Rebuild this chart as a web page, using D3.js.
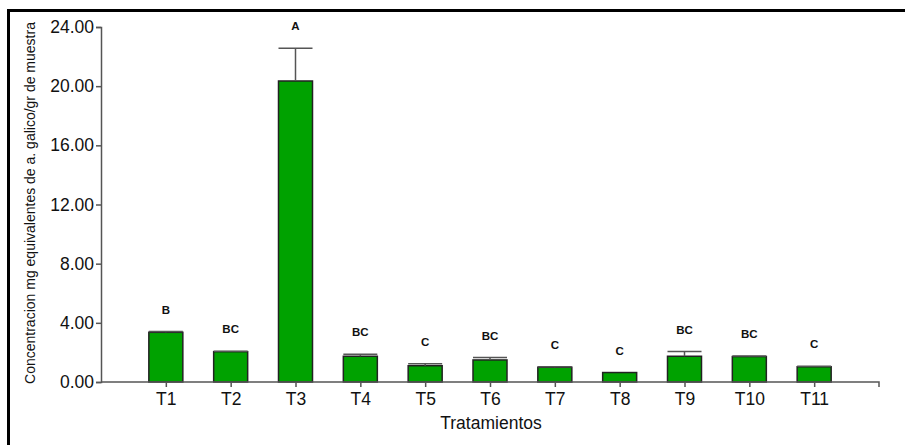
<!DOCTYPE html>
<html>
<head>
<meta charset="utf-8">
<script src="https://cdn.jsdelivr.net/npm/d3@7"></script>
<style>
  html, body { margin: 0; padding: 0; background: #fff; }
  svg { display: block; }
</style>
</head>
<body>
<script>
// Treatments, mean concentration, upper error and Tukey-style group letters
const categories = ["T1", "T2", "T3", "T4", "T5", "T6", "T7", "T8", "T9", "T10", "T11"];
const means      = [3.36, 2.05, 20.35, 1.74, 1.10, 1.49, 1.00, 0.64, 1.74, 1.72, 1.03];
const errors     = [0.05, 0.03, 2.21, 0.14, 0.14, 0.16, 0.03, 0.00, 0.32, 0.03, 0.03];
const groups     = ["B", "BC", "A", "BC", "C", "BC", "C", "C", "BC", "BC", "C"];
const yTicks     = [0, 4, 8, 12, 16, 20, 24];

const W = 905, H = 445;
const plotLeft = 101, plotRight = 879, plotTop = 27, plotBottom = 382;
const font = "Liberation Sans, Arial, sans-serif";

const svg = d3.select("body").append("svg")
  .attr("width", W).attr("height", H);

// outer frame
svg.append("rect")
  .attr("x", 8.5).attr("y", 10.5)
  .attr("width", W + 20).attr("height", H + 20)
  .attr("fill", "none").attr("stroke", "#000").attr("stroke-width", 3);

const x = d3.scalePoint().domain(categories).range([plotLeft, plotRight]).padding(1);
const y = d3.scaleLinear().domain([0, 24]).range([plotBottom, plotTop]);

const barW = 34;
const axisColor = "#555";

// bars
svg.append("g").selectAll("rect")
  .data(categories)
  .join("rect")
  .attr("x", (d) => x(d) - barW / 2)
  .attr("y", (d, i) => y(means[i]))
  .attr("width", barW)
  .attr("height", (d, i) => y(0) - y(means[i]))
  .attr("fill", "#00a200")
  .attr("stroke", "#222")
  .attr("stroke-width", 1.5);

// upper error bars
const eb = svg.append("g").attr("stroke", "#555").attr("stroke-width", 1.5);
categories.forEach((c, i) => {
  if (errors[i] <= 0) return;
  const yt = y(means[i] + errors[i]);
  eb.append("line").attr("x1", x(c)).attr("x2", x(c))
    .attr("y1", y(means[i])).attr("y2", yt);
  eb.append("line").attr("x1", x(c) - barW / 2).attr("x2", x(c) + barW / 2)
    .attr("y1", yt).attr("y2", yt);
});

// group letters
svg.append("g").selectAll("text")
  .data(categories)
  .join("text")
  .attr("x", (d) => x(d))
  .attr("y", (d, i) => y(means[i] + errors[i]) - 18)
  .attr("text-anchor", "middle")
  .attr("font-family", font)
  .attr("font-size", 11.5)
  .attr("font-weight", "bold")
  .attr("fill", "#111")
  .text((d, i) => groups[i]);

// y axis
const yAxis = svg.append("g")
  .attr("transform", `translate(${plotLeft},0)`)
  .call(d3.axisLeft(y).tickValues(yTicks).tickFormat(d3.format(".2f")).tickSize(5).tickPadding(2));
yAxis.select(".domain").attr("stroke", axisColor).attr("stroke-width", 1.5);
yAxis.selectAll(".tick line").attr("stroke", axisColor).attr("stroke-width", 1.5);
yAxis.selectAll(".tick text")
  .attr("font-family", font)
  .attr("font-size", 17.5).attr("fill", "#111");

// x axis
const xAxis = svg.append("g")
  .attr("transform", `translate(0,${plotBottom})`)
  .call(d3.axisBottom(x).tickSizeInner(5).tickSizeOuter(5).tickPadding(6));
xAxis.select(".domain").attr("stroke", axisColor).attr("stroke-width", 1.5)
  .attr("d", `M${plotLeft},0H${plotRight}V5`);
xAxis.selectAll(".tick line").attr("stroke", axisColor).attr("stroke-width", 1.5);
xAxis.selectAll(".tick text")
  .attr("font-family", font)
  .attr("font-size", 17.5).attr("fill", "#111");

// axis titles
svg.append("text")
  .attr("x", 491).attr("y", 429)
  .attr("text-anchor", "middle")
  .attr("font-family", font)
  .attr("font-size", 17.5).attr("fill", "#111")
  .text("Tratamientos");

svg.append("text")
  .attr("transform", "translate(35,203) rotate(-90)")
  .attr("text-anchor", "middle")
  .attr("font-family", font)
  .attr("font-size", 14).attr("fill", "#111")
  .text("Concentracion mg equivalentes de a. galico/gr de muestra");
</script>
</body>
</html>
